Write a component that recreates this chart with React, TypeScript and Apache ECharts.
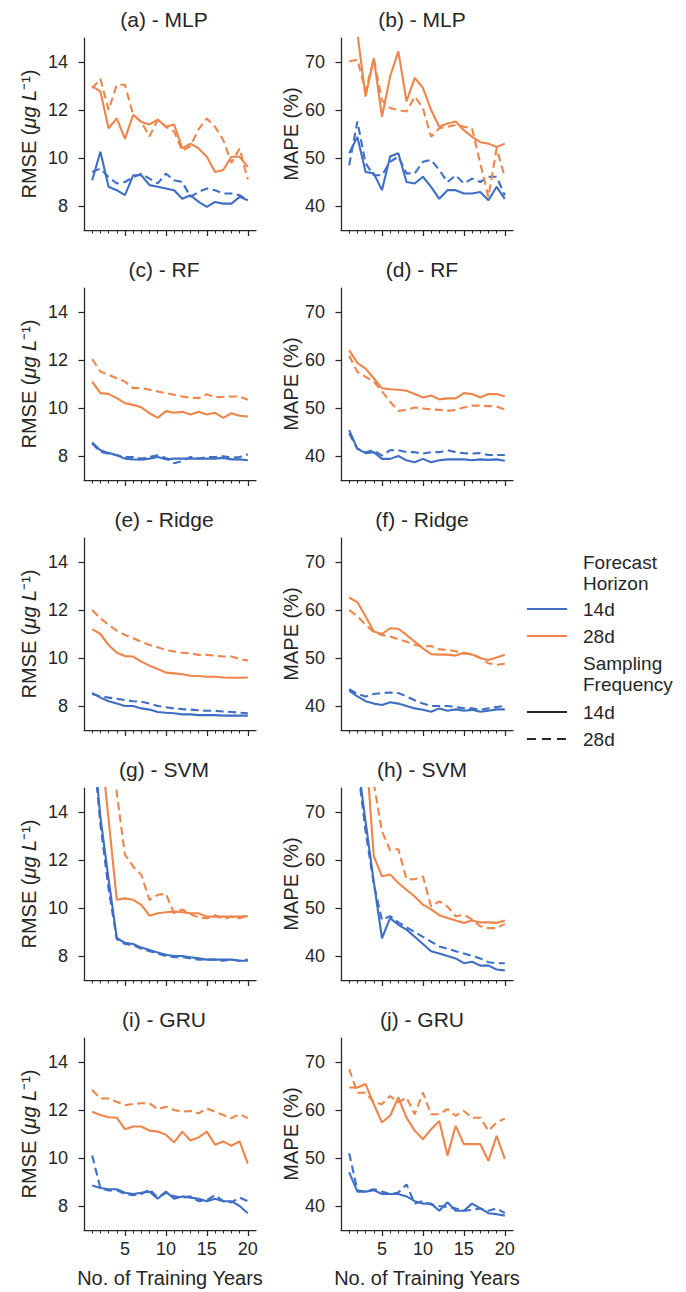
import React, { useEffect, useRef } from "react";
import * as echarts from "echarts";

// ---------- data ----------
const years = [1, 2, 3, 4, 5, 6, 7, 8, 9, 10, 11, 12, 13, 14, 15, 16, 17, 18, 19, 20];
const xMajorTicks = [5, 10, 15, 20];
const rmseTicks = [8, 10, 12, 14];
const mapeTicks = [40, 50, 60, 70];

const titles = [
  "(a) - MLP", "(b) - MLP", "(c) - RF", "(d) - RF", "(e) - Ridge",
  "(f) - Ridge", "(g) - SVM", "(h) - SVM", "(i) - GRU", "(j) - GRU",
];

// naming: <panel>_<forecast horizon colour><sampling frequency>
// b = forecast 14d (blue), o = forecast 28d (orange); 14 = solid, 28 = dashed
const mlpRmse_b14 = [9.07, 10.26, 8.8, 8.66, 8.45, 9.28, 9.28, 8.87, 8.8, 8.73, 8.66, 8.3, 8.45, 8.17, 7.96, 8.17, 8.1, 8.1, 8.38, 8.24];
const mlpRmse_b28 = [9.42, 9.56, 9.21, 8.94, 9.0, 9.2, 9.35, 9.14, 8.94, 9.35, 9.07, 9.0, 8.38, 8.59, 8.73, 8.66, 8.52, 8.52, 8.45, 8.24];
const mlpRmse_o14 = [13.0, 12.77, 11.24, 11.65, 10.8, 11.8, 11.5, 11.4, 11.6, 11.3, 11.4, 10.4, 10.6, 10.4, 10.05, 9.42, 9.5, 10.05, 10.05, 9.63];
const mlpRmse_o28 = [12.9, 13.3, 12.0, 13.05, 13.05, 11.8, 11.5, 10.9, 11.6, 11.3, 11.1, 10.3, 10.5, 11.2, 11.65, 11.3, 10.75, 9.8, 10.4, 9.1];

const mlpMape_b14 = [51, 54.4, 47.1, 46.8, 43.3, 50.3, 51, 45, 44.7, 46.1, 44, 41.5, 43.3, 43.3, 42.6, 42.6, 42.9, 41.2, 44, 41.5];
const mlpMape_b28 = [48.5, 57.6, 48.9, 46.4, 46.4, 49.2, 50.3, 46.8, 46.8, 49.2, 49.6, 47.5, 45, 46.4, 44.7, 45.7, 45, 46.1, 46.1, 42.2];
const mlpMape_o14 = [82, 76, 62.8, 70.8, 58.6, 67, 72.2, 61.8, 66.7, 64.6, 60, 56.5, 57.2, 57.6, 55.8, 54.4, 53.3, 53, 52.3, 53];
const mlpMape_o28 = [70.1, 70.5, 64, 70.6, 62, 60.4, 60, 59.7, 62.8, 60.4, 54.4, 56.2, 56.5, 56.9, 56.5, 56.2, 48.9, 41.9, 52, 46];

const rfRmse_b14 = [8.56, 8.24, 8.13, 8.03, 7.89, 7.86, 7.85, 7.89, 7.96, 7.86, 7.89, 7.89, 7.89, 7.89, 7.89, 7.89, 7.92, 7.86, 7.86, 7.82];
const rfRmse_b28 = [8.52, 8.17, 8.1, 8.03, 7.96, 7.96, 7.89, 7.96, 8.03, 7.92, 7.7, 7.79, 7.96, 7.89, 7.96, 7.96, 7.99, 7.93, 7.96, 8.07];
const rfRmse_o14 = [11.1, 10.62, 10.59, 10.41, 10.2, 10.13, 10.03, 9.78, 9.59, 9.87, 9.8, 9.84, 9.73, 9.84, 9.73, 9.8, 9.59, 9.78, 9.68, 9.64];
const rfRmse_o28 = [12.04, 11.52, 11.38, 11.24, 11.1, 10.83, 10.83, 10.76, 10.69, 10.62, 10.55, 10.48, 10.43, 10.41, 10.57, 10.45, 10.46, 10.48, 10.48, 10.34];

const rfMape_b14 = [45.4, 41.5, 40.6, 40.8, 39.4, 39.4, 40, 39.1, 38.7, 39.4, 38.7, 39.1, 39.3, 39.3, 39.3, 39.1, 39.3, 39.2, 39.3, 39];
const rfMape_b28 = [44.7, 41.5, 40.8, 41.2, 40.1, 41.2, 41.2, 40.8, 40.8, 40.5, 40.8, 40.8, 41.2, 40.8, 40.6, 40.5, 40.6, 40.2, 40.2, 40.2];
const rfMape_o14 = [62, 59.4, 58.2, 56.2, 54.1, 53.9, 53.8, 53.6, 52.9, 52.2, 52.6, 51.8, 52, 52, 53.1, 52.9, 52.2, 52.9, 52.9, 52.4];
const rfMape_o28 = [60.9, 57.5, 56.5, 55.5, 53.5, 51.3, 49.4, 49.6, 50.1, 49.9, 49.7, 49.6, 49.4, 49.6, 50.1, 50.5, 50.5, 50.4, 50.3, 49.7];

const ridgeRmse_b14 = [8.55, 8.35, 8.2, 8.1, 8.0, 8.0, 7.9, 7.85, 7.75, 7.72, 7.7, 7.65, 7.65, 7.62, 7.62, 7.62, 7.6, 7.6, 7.6, 7.6];
const ridgeRmse_b28 = [8.5, 8.4, 8.35, 8.3, 8.25, 8.2, 8.18, 8.1, 8.0, 7.95, 7.9, 7.87, 7.85, 7.82, 7.8, 7.8, 7.77, 7.75, 7.72, 7.7];
const ridgeRmse_o14 = [11.2, 11.0, 10.54, 10.22, 10.08, 10.06, 9.85, 9.68, 9.54, 9.39, 9.36, 9.32, 9.26, 9.25, 9.22, 9.22, 9.19, 9.18, 9.18, 9.19];
const ridgeRmse_o28 = [12.0, 11.66, 11.38, 11.14, 10.96, 10.82, 10.68, 10.54, 10.45, 10.33, 10.27, 10.22, 10.2, 10.13, 10.13, 10.1, 10.06, 10.06, 9.96, 9.89];

const ridgeMape_b14 = [43.2, 42, 41, 40.5, 40.2, 40.8, 40.5, 40, 39.5, 39.2, 38.8, 39.5, 39, 39.3, 39, 39.2, 38.8, 39, 39.3, 39.3];
const ridgeMape_b28 = [43.5, 42.5, 42, 42.5, 42.7, 42.8, 42.7, 42, 41.2, 40.5, 40, 40, 40, 39.8, 39.5, 39.5, 39.2, 39.5, 39.8, 40];
const ridgeMape_o14 = [62.6, 61.6, 58.7, 55.5, 55, 56.2, 56.1, 54.8, 53.4, 52, 50.8, 50.7, 50.7, 50.5, 51.1, 50.7, 50, 49.6, 50.1, 50.7];
const ridgeMape_o28 = [60, 58.7, 56.9, 55.4, 54.8, 54.5, 53.9, 53.4, 52.7, 52.4, 52.5, 51.8, 51.7, 51.4, 50.9, 50.9, 50, 48.9, 48.6, 48.8];

const svmRmse_b14 = [17.5, 13.8, 11.2, 8.75, 8.55, 8.5, 8.35, 8.25, 8.15, 8.05, 8.0, 8.0, 7.95, 7.9, 7.85, 7.85, 7.85, 7.85, 7.8, 7.8];
const svmRmse_b28 = [17.2, 13.5, 10.8, 8.7, 8.5, 8.45, 8.3, 8.2, 8.1, 8.0, 7.95, 7.95, 7.9, 7.85, 7.85, 7.85, 7.8, 7.85, 7.8, 7.85];
const svmRmse_o14 = [30, 17, 13.7, 10.34, 10.4, 10.34, 10.13, 9.68, 9.78, 9.82, 9.85, 9.82, 9.78, 9.78, 9.64, 9.64, 9.64, 9.64, 9.64, 9.66];
const svmRmse_o28 = [30, 25, 20, 14.8, 12.22, 11.73, 11.38, 10.34, 10.55, 10.59, 9.78, 9.94, 9.75, 9.6, 9.57, 9.7, 9.54, 9.64, 9.57, 9.7];

const svmMape_b14 = [95, 81, 68, 55.5, 43.7, 47.9, 46.5, 45.5, 44, 42.5, 41, 40.5, 40, 39.5, 38.5, 38.8, 38, 38, 37.2, 37];
const svmMape_b28 = [93, 80, 66, 55, 47.5, 48.3, 47, 46, 45, 44, 43, 42, 41.5, 41, 40.5, 40, 39.5, 38.7, 38.5, 38.5];
const svmMape_o14 = [110, 95, 84.5, 60.8, 56.6, 57, 55.2, 53.8, 52.4, 50.7, 49.7, 48.5, 47.9, 47.4, 46.9, 47.4, 47, 47, 46.9, 47.4];
const svmMape_o28 = [120, 100, 88, 76, 66, 62, 62.3, 56, 56, 56.6, 50.3, 51.4, 50.3, 48.3, 48.6, 47.6, 46.2, 45.8, 45.8, 46.7];

const gruRmse_b14 = [8.85, 8.75, 8.7, 8.7, 8.55, 8.5, 8.55, 8.6, 8.3, 8.6, 8.3, 8.4, 8.35, 8.3, 8.2, 8.3, 8.2, 8.2, 8.0, 7.7];
const gruRmse_b28 = [10.1, 8.75, 8.65, 8.65, 8.5, 8.45, 8.5, 8.7, 8.35, 8.55, 8.4, 8.35, 8.4, 8.2, 8.25, 8.45, 8.2, 8.15, 8.35, 8.2];
const gruRmse_o14 = [11.93, 11.79, 11.7, 11.68, 11.2, 11.31, 11.31, 11.14, 11.1, 10.97, 10.65, 11.1, 10.73, 10.86, 11.1, 10.55, 10.69, 10.51, 10.69, 9.77];
const gruRmse_o28 = [12.83, 12.48, 12.48, 12.34, 12.2, 12.25, 12.28, 12.28, 12.03, 12.14, 12.0, 11.93, 11.96, 11.86, 12.07, 11.93, 11.79, 11.66, 11.83, 11.66];

const gruMape_b14 = [47, 43, 43, 43.3, 42.5, 42.5, 42.5, 42, 41, 40.5, 40.5, 39, 40.8, 39, 39, 40.5, 39.5, 38.5, 38.3, 38];
const gruMape_b28 = [51, 43.3, 43, 43.5, 43, 42.5, 42.8, 44.5, 40.5, 41, 40.3, 40, 39.8, 39.5, 39, 39.2, 39.5, 39, 39.5, 38.5];
const gruMape_o14 = [64.7, 64.7, 65.4, 61.2, 57.4, 58.8, 62.6, 58.4, 55.7, 53.9, 56, 57.7, 50.5, 56.7, 52.9, 52.9, 52.9, 49.4, 54.6, 49.8];
const gruMape_o28 = [68.5, 63.6, 63.6, 61.6, 61.2, 62.9, 61.6, 62.6, 59.1, 63.6, 59.1, 59.1, 60.2, 58.8, 59.8, 58.4, 58.4, 55.7, 57.4, 58.2];

const panelSeries = [
  [mlpRmse_b14, mlpRmse_b28, mlpRmse_o14, mlpRmse_o28],
  [mlpMape_b14, mlpMape_b28, mlpMape_o14, mlpMape_o28],
  [rfRmse_b14, rfRmse_b28, rfRmse_o14, rfRmse_o28],
  [rfMape_b14, rfMape_b28, rfMape_o14, rfMape_o28],
  [ridgeRmse_b14, ridgeRmse_b28, ridgeRmse_o14, ridgeRmse_o28],
  [ridgeMape_b14, ridgeMape_b28, ridgeMape_o14, ridgeMape_o28],
  [svmRmse_b14, svmRmse_b28, svmRmse_o14, svmRmse_o28],
  [svmMape_b14, svmMape_b28, svmMape_o14, svmMape_o28],
  [gruRmse_b14, gruRmse_b28, gruRmse_o14, gruRmse_o28],
  [gruMape_b14, gruMape_b28, gruMape_o14, gruMape_o28],
];

// ---------- style / layout ----------
const FONT = '"Liberation Sans", Arial, sans-serif';
const INK = "#262626";
const BLUE = "#3f6fc4";
const ORANGE = "#ee854a";
const DASH = [8, 4.5];
const ROW_TOPS = [38, 288, 538, 788, 1038];
const COL_LEFT = [84, 341];
const GRID_W = 172;
const GRID_H = 192;
const TITLE_X = [164, 422];

function buildOption() {
  const grid: any[] = [];
  const xAxis: any[] = [];
  const yAxis: any[] = [];
  const series: any[] = [];
  const graphic: any[] = [];

  for (let k = 0; k < 10; k++) {
    const row = Math.floor(k / 2);
    const col = k % 2;
    const isBottom = row === 4;
    const isMape = col === 1;
    grid.push({ left: COL_LEFT[col], top: ROW_TOPS[row], width: GRID_W, height: GRID_H, containLabel: false });

    // minor ticks + axis line
    xAxis.push({
      type: "value", gridIndex: k, min: 0, max: 21, position: "bottom",
      axisLine: { show: true, lineStyle: { color: INK, width: 1.25 } },
      axisTick: { show: true, customValues: years, length: 3.5, lineStyle: { color: INK, width: 1 } },
      axisLabel: { show: false },
      splitLine: { show: false },
    });
    // major ticks + labels
    xAxis.push({
      type: "value", gridIndex: k, min: 0, max: 21, position: "bottom",
      axisLine: { show: false },
      axisTick: { show: true, customValues: xMajorTicks, length: 6, lineStyle: { color: INK, width: 1.25 } },
      axisLabel: {
        show: isBottom, customValues: xMajorTicks, fontSize: 18, color: INK, fontFamily: FONT, margin: 10,
      },
      splitLine: { show: false },
      name: isBottom ? "No. of Training Years" : "",
      nameLocation: "middle",
      nameGap: 38,
      nameTextStyle: { fontSize: 20, color: INK, fontFamily: FONT },
    });

    const ticks = isMape ? mapeTicks : rmseTicks;
    yAxis.push({
      type: "value", gridIndex: k,
      min: isMape ? 35 : 7, max: isMape ? 75 : 15,
      axisLine: { show: true, lineStyle: { color: INK, width: 1.25 } },
      axisTick: { show: true, customValues: ticks, length: 5.5, lineStyle: { color: INK, width: 1.25 } },
      axisLabel: { show: true, customValues: ticks, fontSize: 18, color: INK, fontFamily: FONT, margin: 16 },
      splitLine: { show: false },
      name: isMape ? "MAPE (%)" : "{n|RMSE (}{i|μg L}{n|⁻¹)}",
      nameLocation: "middle",
      nameGap: isMape ? 34 : 45,
      nameTextStyle: {
        fontSize: 20, color: INK, fontFamily: FONT,
        rich: {
          n: { fontSize: 20, color: INK, fontFamily: FONT },
          i: { fontSize: 20, color: INK, fontFamily: FONT, fontStyle: "italic" },
        },
      },
    });

    const arrs = panelSeries[k];
    const styles = [
      { color: BLUE, type: "solid" },
      { color: BLUE, type: DASH },
      { color: ORANGE, type: "solid" },
      { color: ORANGE, type: DASH },
    ];
    arrs.forEach((arr, j) => {
      series.push({
        type: "line",
        xAxisIndex: 2 * k,
        yAxisIndex: k,
        data: years.map((x, i) => [x, arr[i]]),
        showSymbol: false,
        symbol: "none",
        clip: true,
        silent: true,
        lineStyle: { color: styles[j].color, width: 2.1, type: styles[j].type },
        z: 2,
      });
    });

    graphic.push({
      type: "text",
      x: TITLE_X[col],
      y: ROW_TOPS[row] - 19,
      style: {
        text: titles[k], fill: INK, font: `21px ${FONT}`,
        align: "center", verticalAlign: "middle",
      },
    });
  }

  // legend drawn as graphic
  const LX0 = 527, LX1 = 567, TX = 583;
  const legendText = (t: string, y: number) => ({
    type: "text", x: TX, y,
    style: { text: t, fill: INK, font: `19px ${FONT}`, align: "left", verticalAlign: "middle" },
  });
  const legendLine = (y: number, color: string, dash: any) => ({
    type: "line",
    shape: { x1: LX0, y1: y, x2: LX1, y2: y },
    style: { stroke: color, lineWidth: 2.1, lineDash: dash },
  });
  graphic.push(
    legendText("Forecast", 562),
    legendText("Horizon", 583),
    legendLine(609, BLUE, null),
    legendText("14d", 609),
    legendLine(636, ORANGE, null),
    legendText("28d", 636),
    legendText("Sampling", 663),
    legendText("Frequency", 684),
    legendLine(712, INK, null),
    legendText("14d", 712),
    legendLine(739, INK, [9, 6]),
    legendText("28d", 739),
  );

  return {
    animation: false,
    backgroundColor: "#ffffff",
    textStyle: { fontFamily: FONT },
    grid, xAxis, yAxis, series, graphic,
  };
}

export default function App() {
  const ref = useRef<HTMLDivElement>(null);
  useEffect(() => {
    const chart = echarts.init(ref.current!, undefined, { renderer: "svg" });
    chart.setOption(buildOption() as any);
    return () => chart.dispose();
  }, []);
  return (
    <div
      ref={ref}
      style={{ position: "absolute", left: 0, top: 0, width: 686, height: 1292, background: "#fff" }}
    />
  );
}
